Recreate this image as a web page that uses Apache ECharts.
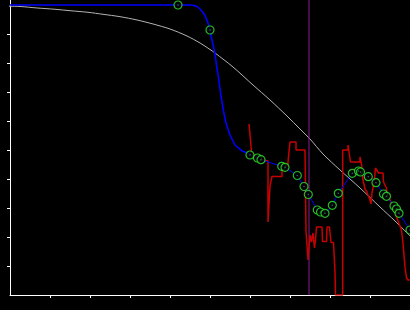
<!DOCTYPE html>
<html>
<head>
<meta charset="utf-8">
<script src="https://cdn.jsdelivr.net/npm/echarts@6/dist/echarts.min.js"></script>
<style>html,body{margin:0;padding:0;background:#000;}#c{width:410px;height:310px;}</style>
</head>
<body>
<div id="c"></div>
<script>
// Axis ticks (value units)
const xTicks = [1,2,3,4,5,6,7,8,9];
const yTicks = [1,2,3,4,5,6,7,8,9];

// Gray smooth reference curve
const grayX = [-0.25,0.25,0.675,1.125,1.5,1.95,2.325,2.75,3.175,3.575,4.0,4.425,4.75,5.0,5.125,5.575,6.075,6.5,6.925,7.25,7.5,7.825,8.25,8.75,9.25,9.625,10.0];
const grayY = [9.966,9.948,9.897,9.852,9.803,9.748,9.679,9.597,9.483,9.345,9.172,8.931,8.69,8.466,8.345,7.862,7.241,6.724,6.172,5.724,5.379,4.862,4.31,3.69,3.034,2.552,2.034];

// Blue fitted curve (upper part)
const blueX = [0,4.5,4.6,4.675,4.75,4.825,4.875,4.95,5.0,5.05,5.0875,5.125,5.1675,5.2075,5.25,5.2925,5.3325,5.4,5.5,5.625,5.7925,5.9575,6.0];
const blueY = [10.0,10.0,9.983,9.948,9.862,9.741,9.638,9.379,9.138,8.793,8.552,8.31,7.872,7.528,7.103,6.724,6.379,5.931,5.517,5.172,4.976,4.879,4.828];

// Green sample points
const ptX = [4.2,5.0,6.0,6.1875,6.275,6.7925,6.875,7.1825,7.35,7.4575,7.6825,7.7625,7.875,8.0575,8.2075,8.5575,8.7125,8.7625,8.9575,9.15,9.3375,9.4125,9.6,9.6625,9.725,10.0];
const ptY = [10.0,9.138,4.828,4.724,4.666,4.438,4.403,4.121,3.741,3.466,2.931,2.862,2.817,3.093,3.507,4.197,4.276,4.241,4.079,3.872,3.483,3.403,3.069,2.966,2.817,2.241];

// Red measured (stepped) line
const redX = [5.975,6.0,6.0125,6.0375,6.0375,6.075,6.2,6.325,6.45,6.45,6.5,6.5,6.55,6.55,6.8,6.8,6.95,6.95,7.0,7.0,7.15,7.15,7.375,7.4,7.4375,7.45,7.475,7.5,7.5375,7.575,7.6125,7.6375,7.6625,7.8,7.8125,7.9125,7.925,7.9875,8.0,8.025,8.0875,8.1125,8.125,8.1375,8.3175,8.3175,8.45,8.45,8.5,8.5125,8.75,8.75,8.7875,8.7875,8.825,8.875,8.925,8.95,9.0,9.025,9.05,9.1,9.1,9.1375,9.1875,9.2125,9.325,9.3375,9.375,9.4125,9.425,9.5,9.65,9.7,9.75,9.7875,9.825,9.85,9.875,9.9125,9.95,10.0];
const redY = [5.897,5.897,5.345,5.345,4.897,4.793,4.724,4.655,4.621,2.517,2.517,3.759,3.759,4.086,4.086,4.448,4.448,4.586,4.586,5.276,5.276,5.0,5.0,2.207,2.207,1.207,1.207,2.069,1.828,2.138,1.621,1.897,2.345,2.345,1.845,1.845,2.345,2.345,2.138,1.81,1.81,1.138,0.793,0,0,5.0,5.0,5.172,5.172,4.586,4.586,4.759,4.759,4.517,3.966,3.655,3.552,3.448,3.276,3.138,3.517,3.517,3.862,4.379,4.379,4.207,4.207,3.897,3.862,3.69,3.414,3.276,2.759,2.552,2.552,2.241,1.793,1.379,0.966,0.586,0.517,0.517];

// Vertical marker position
const markerX = 7.475;

const Y_MAX = 10.172;
const zip = (xs, ys) => xs.map((x, i) => [x, ys[i]]);
const lowerStart = 2; // blue thin polyline runs through points from here

const chart = echarts.init(document.getElementById('c'), null, {renderer: 'canvas'});
chart.setOption({
  backgroundColor: '#000',
  animation: false,
  grid: {left: 10, right: 0, top: 0, bottom: 15},
  xAxis: {
    type: 'value', min: 0, max: 10,
    axisLine: {show: true, onZero: false, lineStyle: {color: '#fff', width: 1}},
    axisTick: {show: true, length: 3, inside: false, customValues: xTicks, lineStyle: {color: '#fff', width: 1}},
    axisLabel: {show: false},
    splitLine: {show: false}
  },
  yAxis: {
    type: 'value', min: 0, max: Y_MAX,
    axisLine: {show: true, onZero: false, lineStyle: {color: '#fff', width: 1}},
    axisTick: {show: true, length: 3, inside: false, customValues: yTicks, lineStyle: {color: '#fff', width: 1}},
    axisLabel: {show: false},
    splitLine: {show: false}
  },
  series: [
    {type: 'line', data: zip(grayX, grayY), clip: false, symbol: 'none', smooth: 0.3, z: 1,
     lineStyle: {color: '#b4b4b4', width: 1}},
    {type: 'line', data: [[markerX, 0], [markerX, Y_MAX]], symbol: 'none', z: 2,
     lineStyle: {color: '#8a1a92', width: 1}},
    {type: 'line', data: zip(redX, redY), symbol: 'none', z: 3,
     lineStyle: {color: '#c80000', width: 1.5}},
    {type: 'line', data: zip(blueX, blueY), symbol: 'none', z: 4,
     lineStyle: {color: '#0000ff', width: 1.6}},
    {type: 'line', data: zip(ptX.slice(lowerStart), ptY.slice(lowerStart)), symbol: 'none', z: 4,
     lineStyle: {color: '#0000ff', width: 1}},
    {type: 'scatter', data: zip(ptX, ptY), symbol: 'circle', symbolSize: 8, clip: false, z: 5,
     itemStyle: {color: '#000', borderColor: '#2ee82e', borderWidth: 1.2}},
    {type: 'scatter', data: zip(ptX, ptY), symbol: 'circle', symbolSize: 1.6, clip: false, z: 6,
     itemStyle: {color: '#2a8a5a'}}
  ]
});
</script>
</body>
</html>
